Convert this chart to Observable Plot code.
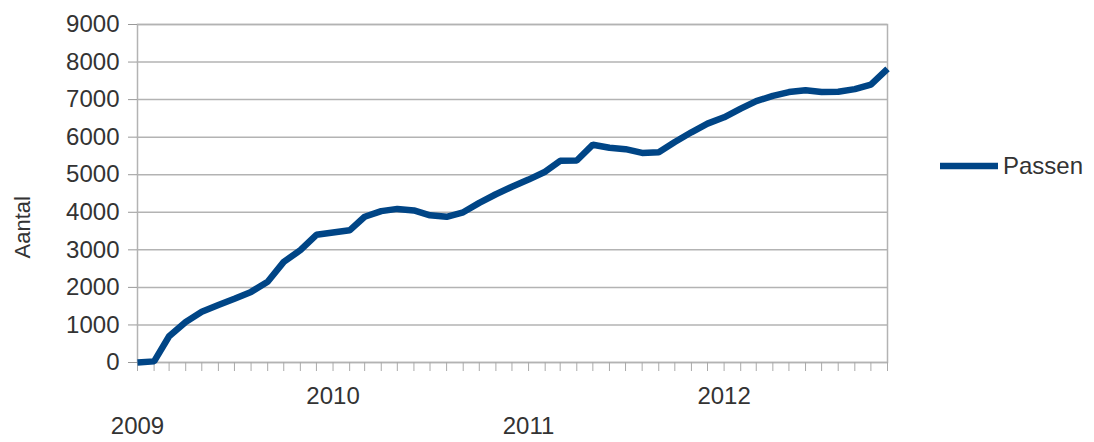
<!DOCTYPE html>
<html>
<head>
<meta charset="utf-8">
<script src="https://cdn.jsdelivr.net/npm/d3@7"></script>
<script src="https://cdn.jsdelivr.net/npm/@observablehq/plot@0.6"></script>
<style>
  html, body { margin: 0; padding: 0; background: #fff; }
  #wrap { position: relative; width: 1094px; height: 442px; font-family: "Liberation Sans", Arial, sans-serif; }
  #legend { position: absolute; left: 940px; top: 152px; display: flex; align-items: center; font-size: 24px; color: #333; }
  #legend svg { display: block; margin-right: 5px; }
</style>
</head>
<body>
<div id="wrap">
  <div id="chart"></div>
  <div id="legend"><svg width="58" height="10"><line x1="0" y1="5" x2="58" y2="5" stroke="#004586" stroke-width="6.5"/></svg><span>Passen</span></div>
</div>
<script>
const seriesName = "Passen";
const yLabel = "Aantal";
const months = [
  "2009-01","2009-02","2009-03","2009-04","2009-05","2009-06","2009-07","2009-08","2009-09","2009-10","2009-11","2009-12",
  "2010-01","2010-02","2010-03","2010-04","2010-05","2010-06","2010-07","2010-08","2010-09","2010-10","2010-11","2010-12",
  "2011-01","2011-02","2011-03","2011-04","2011-05","2011-06","2011-07","2011-08","2011-09","2011-10","2011-11","2011-12",
  "2012-01","2012-02","2012-03","2012-04","2012-05","2012-06","2012-07","2012-08","2012-09","2012-10","2012-11"
];
const passen = [
  0, 30, 700, 1080, 1350, 1530, 1700, 1880, 2150, 2680, 2990, 3400,
  3460, 3520, 3880, 4030, 4090, 4050, 3920, 3880, 4000, 4250, 4480, 4680,
  4870, 5080, 5370, 5380, 5800, 5720, 5680, 5580, 5600, 5870, 6130, 6360,
  6530, 6760, 6960, 7100, 7200, 7250, 7200, 7210, 7280, 7400, 7820
];
const yTicks = [0, 1000, 2000, 3000, 4000, 5000, 6000, 7000, 8000, 9000];
const upperYears = ["2010", "2012"];
const lowerYears = ["2009", "2011"];

const parse = d3.utcParse("%Y-%m");
const data = months.map((m, i) => ({date: parse(m), value: passen[i]}));
const yearDate = (y) => d3.utcParse("%Y")(y);

const chart = Plot.plot({
  width: 1094,
  height: 442,
  marginLeft: 137,
  marginRight: 207,
  marginTop: 24,
  marginBottom: 80,
  style: {fontFamily: "Liberation Sans, Arial, sans-serif", fontSize: "24px", color: "#333", background: "#fff"},
  x: {type: "utc", domain: [data[0].date, data[data.length - 1].date]},
  y: {domain: [0, 9000]},
  marks: [
    Plot.gridY(yTicks, {stroke: "#b3b3b3", strokeOpacity: 1, strokeWidth: 1.5}),
    Plot.frame({stroke: "#b3b3b3", strokeWidth: 1.5}),
    Plot.axisY(yTicks, {tickSize: 9, tickPadding: 9, tickFormat: d3.format("d"), stroke: "#999", fill: "#333", fontSize: 24, label: null}),
    Plot.axisX(data.map(d => d.date), {tickSize: 9, stroke: "#aaa", text: null, label: null}),
    Plot.text(upperYears, {x: yearDate, text: d => d, frameAnchor: "bottom", dy: 34, lineAnchor: "middle", fill: "#333", fontSize: 24}),
    Plot.text(lowerYears, {x: yearDate, text: d => d, frameAnchor: "bottom", dy: 64, lineAnchor: "middle", fill: "#333", fontSize: 24}),
    Plot.text([yLabel], {text: d => d, frameAnchor: "left", dx: -115, dy: 65, rotate: -90, fill: "#333", fontSize: 22}),
    Plot.line(data, {x: "date", y: "value", stroke: "#004586", strokeWidth: 6.5, strokeLinejoin: "miter", strokeLinecap: "butt"})
  ]
});
document.getElementById("chart").appendChild(chart);
</script>
</body>
</html>
